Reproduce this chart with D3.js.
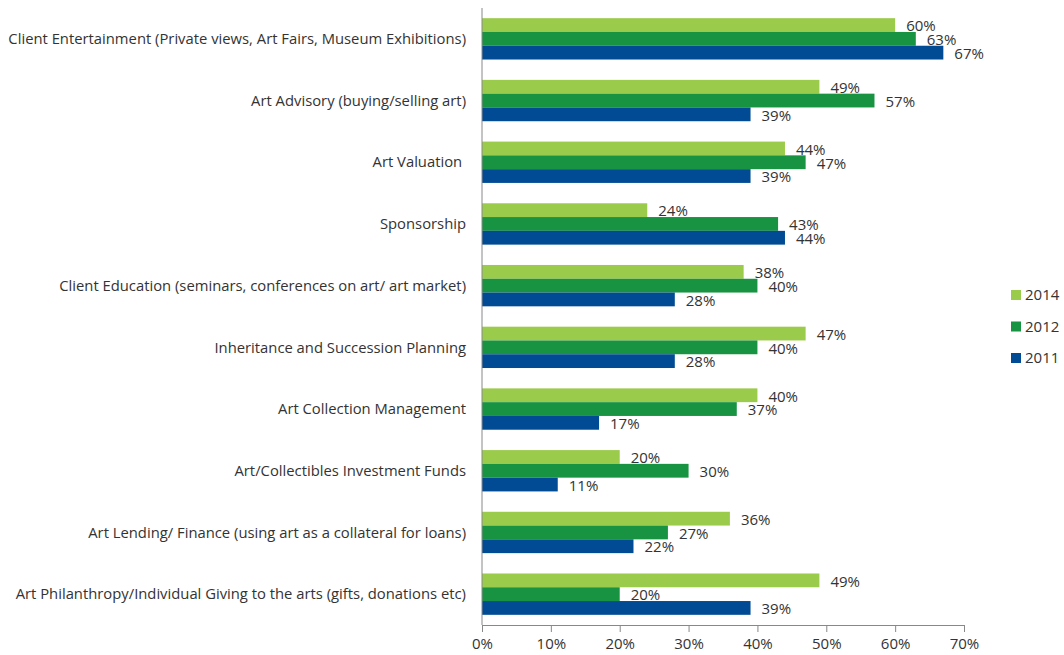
<!DOCTYPE html>
<html><head><meta charset="utf-8">
<script src="https://cdn.jsdelivr.net/npm/d3@7"></script>
<style>
body{margin:0;background:#fff;}
text{font-family:"Open Sans","Noto Sans",sans-serif;fill:#333;}
</style></head>
<body><svg id="c" width="1064" height="655"></svg>
<script>
const categories = [
 "Client Entertainment (Private views, Art Fairs, Museum Exhibitions)",
 "Art Advisory (buying/selling art)",
 "Art Valuation ",
 "Sponsorship",
 "Client Education (seminars, conferences on art/ art market)",
 "Inheritance and Succession Planning",
 "Art Collection Management",
 "Art/Collectibles Investment Funds",
 "Art Lending/ Finance (using art as a collateral for loans)",
 "Art Philanthropy/Individual Giving to the arts (gifts, donations etc)"
];
const seriesNames = ["2014","2012","2011"];
const values2014 = [60,49,44,24,38,47,40,20,36,49];
const values2012 = [63,57,47,43,40,40,37,30,27,20];
const values2011 = [67,39,39,44,28,28,17,11,22,39];
const xTicks = [0,10,20,30,40,50,60,70];
const colors = ["#9BCB4B","#179342","#004B93"];

const series = [values2014, values2012, values2011];
const svg = d3.select("#c");
const x = d3.scaleLinear().domain([0,70]).range([482,964]);
const y = d3.scaleBand().domain(categories).range([8,625]).paddingInner(0.33).paddingOuter(0.165);
const sub = d3.scaleBand().domain(seriesNames).range([0,y.bandwidth()]);

const g = svg.append("g");
categories.forEach((c,i)=>{
  seriesNames.forEach((s,j)=>{
    const v = series[j][i];
    const yy = y(c)+sub(s);
    g.append("rect").attr("x",x(0)).attr("y",yy).attr("width",x(v)-x(0)).attr("height",sub.bandwidth()).attr("fill",colors[j]);
    g.append("text").attr("x",x(v)+11).attr("y",yy+sub.bandwidth()/2+1).attr("dy","0.35em")
      .attr("font-size",15).text(v+"%");
  });
  svg.append("text").attr("x",466).attr("y",y(c)+y.bandwidth()/2).attr("dy","0.35em")
    .attr("text-anchor","end").attr("font-size",14.8).style("white-space","pre").text(c);
});

// axes
const ax = svg.append("g").attr("transform","translate(0,625)")
  .call(d3.axisBottom(x).tickValues(xTicks).tickFormat(d=>d+"%").tickSizeOuter(0).tickSize(7).tickPadding(6));
ax.select(".domain").attr("stroke","#888");
ax.selectAll(".tick line").attr("stroke","#888");
ax.selectAll(".tick text").attr("font-size",15).attr("fill","#333").style("font-family",'"Open Sans","Noto Sans",sans-serif');
svg.append("line").attr("x1",482).attr("x2",482).attr("y1",8).attr("y2",625).attr("stroke","#888");

// legend
const lg = svg.append("g");
seriesNames.forEach((s,j)=>{
  const ly = 295 + j*31.5;
  lg.append("rect").attr("x",1011).attr("y",ly-5).attr("width",10).attr("height",10).attr("fill",colors[j]);
  lg.append("text").attr("x",1025).attr("y",ly).attr("dy","0.35em").attr("font-size",15).text(s);
});
</script></body></html>
